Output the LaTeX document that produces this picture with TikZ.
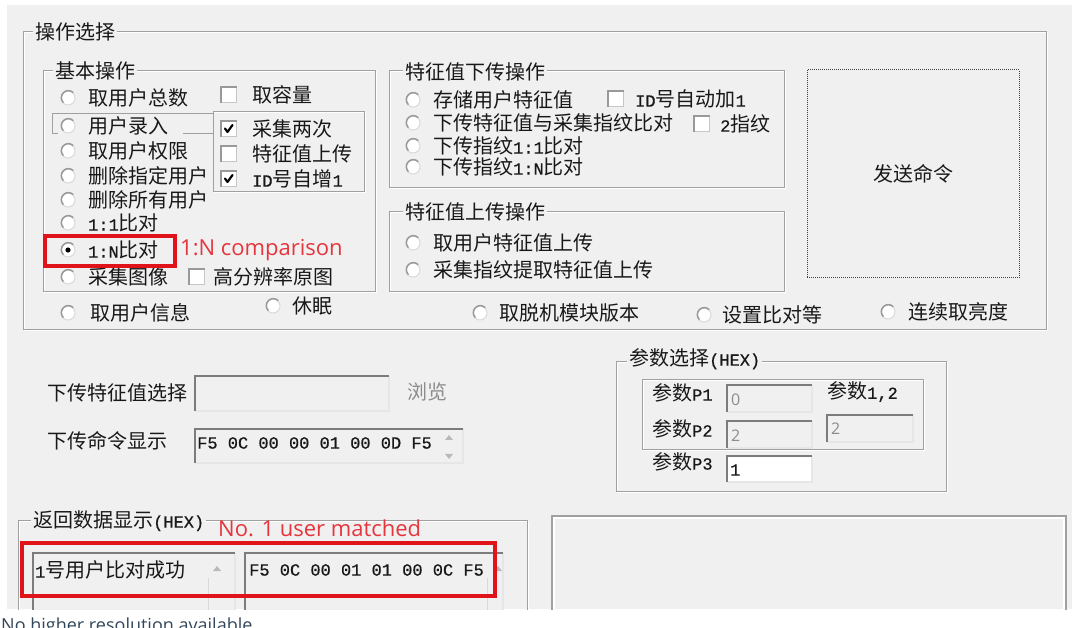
\documentclass[tikz,border=0pt]{standalone}
\usepackage{fontspec}
\newfontfamily\cjk{Noto Sans CJK SC}
\newfontfamily\annf{Open Sans}
\newfontfamily\monof[FakeBold=0.6]{Liberation Mono}
\definecolor{bgc}{HTML}{F0F0F0}
\definecolor{framec}{HTML}{A0A0A0}
\definecolor{annred}{HTML}{E5353D}
\definecolor{boxred}{HTML}{E0121A}
\definecolor{txt}{HTML}{181818}
\definecolor{dimtxt}{HTML}{8C8C8C}
\definecolor{sunkdark}{HTML}{7C7C7C}
\definecolor{sunklight}{HTML}{E6E6E6}
\definecolor{notec}{HTML}{33475B}
\newcommand\asc[1]{{\monof\fontsize{17}{17}\selectfont #1}}
\newcommand\myradio[5]{%
  \node[radio] (#1r) at (#2,#4) {};
  \draw[radiodark] (#1r.45) arc[start angle=45, end angle=225, radius=7pt];
  \node[lbl] (#1) at (#3,#4) {#5};}
\newcommand\mycheck[5]{%
  \node[chk] (#1c) at (#2,#4) {};
  \draw[chkdark] (#1c.south west) -- (#1c.north west) -- (#1c.north east);
  \node[lbl] (#1) at (#3,#4) {#5};}
\newcommand\myticked[5]{%
  \mycheck{#1}{#2}{#3}{#4}{#5}
  \draw[tickmark] ([shift={(-4pt,0.5pt)}]#1c.center) -- ++(2.5pt,-3.5pt) -- ++(5pt,7pt);}
\newcommand\etchbox[4]{%
  \draw[hilite, shift={(1,1)}] (#1,#2) rectangle (#3,#4);
  \draw[etch] (#1,#2) rectangle (#3,#4);}
\newcommand\sunk[5]{%
  \fill[#5] (#1,#2) rectangle (#3,#4);
  \draw[sunklight, line width=1.5pt] (#3,#2) -- (#3,#4) -- (#1,#4);
  \draw[sunkdark, line width=1.5pt] (#1,#4) -- (#1,#2) -- (#3,#2);}
\begin{document}
\begin{tikzpicture}[x=1pt,y=-1pt,
  lbl/.style={anchor=west, inner sep=0pt, text=txt, font=\cjk\fontsize{20}{24}\selectfont},
  dimlbl/.style={lbl, text=dimtxt},
  gtitle/.style={lbl, fill=bgc, inner xsep=2pt},
  etch/.style={draw=framec, line width=1pt},
  hilite/.style={draw=white, line width=1pt},
  radio/.style={circle, draw=gray!30, fill=white, minimum size=14pt, inner sep=0pt, line width=1pt},
  radiodark/.style={draw=gray!80, line width=1.5pt},
  chk/.style={rectangle, draw=gray!45, fill=white, minimum size=15pt, inner sep=0pt, line width=1pt},
  chkdark/.style={draw=gray!80, line width=1.4pt},
  tickmark/.style={line width=2.2pt, draw=black, line cap=round, line join=round},
  annot/.style={anchor=west, inner sep=0pt, text=annred, font=\annf\fontsize{22}{26}\selectfont},
  redbox/.style={draw=boxred, line width=4pt},
  hexbox/.style={anchor=west, inner sep=0pt, text=txt, font=\monof\fontsize{17}{20}\selectfont},
  valtxt/.style={anchor=west, inner sep=0pt, text=dimtxt, font=\annf\fontsize{16}{18}\selectfont},
  arrowtri/.style={fill=gray!55},
  btn/.style={draw=black!75, densely dotted, line width=1pt, minimum width=212pt, minimum height=208pt, inner sep=0pt, font=\cjk\fontsize{20}{24}\selectfont, text=txt},
  note/.style={anchor=base west, inner sep=0pt, text=notec, font=\annf\fontsize{18}{22}\selectfont}
]
\useasboundingbox (0,0) rectangle (1072,628);
\clip (0,0) rectangle (1072,628);
\fill[white] (0,0) rectangle (1072,628);
\node[note] (nohigher) at (1,631) {No higher resolution available};
\begin{scope}
\clip (7,5) rectangle (1072,609);
\fill[bgc] (7,5) rectangle (1072,609);

% ---------- outer group ----------
\etchbox{23}{32}{1046}{330}
\node[gtitle] (tOuter) at (33,32) {操作选择};

% ---------- basic operations ----------
\etchbox{43}{71}{375}{292}
\node[gtitle] (tBasic) at (53,71) {基本操作};
\myradio{b1}{68}{88}{98}{取用户总数}
\myradio{b2}{68}{88}{126}{用户录入}
\draw[framec, line width=1pt] (58,134) -- (52,134) -- (52,114) -- (213,114);
\draw[framec, line width=1pt] (183,134) -- (213,134);
\myradio{b3}{68}{88}{151}{取用户权限}
\myradio{b4}{68}{88}{176}{删除指定用户}
\myradio{b5}{68}{88}{200}{删除所有用户}
\myradio{b6}{68}{88}{223}{\asc{1:1}比对}
\myradio{b8}{68}{88}{277}{采集图像}
\mycheck{b8x}{197}{213}{277}{高分辨率原图}
\fill[bgc] (48,232) rectangle (174,268);
\myradio{b7}{68}{88}{250}{\asc{1:N}比对}
\fill[black] (b7r.center) circle[radius=2.6pt];

% checkbox sub-frame
\draw[hilite, shift={(1,1)}] (213,112) rectangle (364,192);
\fill[bgc] (214,113) rectangle (363,191);
\draw[etch] (213,112) rectangle (364,192);
\mycheck{c1}{229}{252}{95}{取容量}
\myticked{c2}{229}{252}{129}{采集两次}
\mycheck{c3}{229}{252}{154}{特征值上传}
\myticked{c4}{229}{252}{179}{\asc{ID}号自增\asc{1}}

\myradio{b9}{68}{90}{313}{取用户信息}
\myradio{b10}{273}{292}{306}{休眠}

% ---------- download group ----------
\etchbox{389}{71}{784}{188}
\node[gtitle] (tDown) at (403,72) {特征值下传操作};
\myradio{d1}{413}{433}{100}{存储用户特征值}
\mycheck{d1x}{616}{635}{99}{\asc{ID}号自动加\asc{1}}
\myradio{d2}{413}{433}{123}{下传特征值与采集指纹比对}
\mycheck{d2x}{702}{720}{124}{\asc{2}指纹}
\myradio{d3}{413}{433}{146}{下传指纹\asc{1:1}比对}
\myradio{d4}{413}{433}{167}{下传指纹\asc{1:N}比对}

% ---------- upload group ----------
\etchbox{389}{212}{784}{292}
\node[gtitle] (tUp) at (403,212) {特征值上传操作};
\myradio{u1}{413}{433}{243}{取用户特征值上传}
\myradio{u2}{413}{433}{270}{采集指纹提取特征值上传}

% bottom row of outer group
\myradio{e1}{480}{499}{313}{取脱机模块版本}
\myradio{e2}{704}{722}{315}{设置比对等}
\myradio{e3}{888}{908}{312}{连续取亮度}

% send button
\node[btn] (send) at (913,174) {发送命令};

% ---------- middle ----------
\node[lbl] (dlsel) at (47,393) {下传特征值选择};
\sunk{195}{376}{389}{411}{bgc}
\node[dimlbl] (browse) at (407,392) {浏览};
\node[lbl] (dlcmd) at (47,441) {下传命令显示};
\sunk{195}{429}{463}{463}{bgc}
\node[hexbox] (cmdhex) at (197,443) {F5 0C 00 00 01 00 0D F5};
\fill[arrowtri] (449,435) -- (453,440) -- (445,440) -- cycle;
\fill[arrowtri] (449,459) -- (453,454) -- (445,454) -- cycle;

% ---------- parameter group ----------
\etchbox{616}{362}{946}{491}
\node[gtitle] (tParam) at (627,359) {参数选择\asc{(HEX)}};
\etchbox{642}{380}{923}{450}
\node[lbl] (p1) at (652,393) {参数\asc{P1}};
\sunk{727}{385}{812}{412}{bgc}
\node[valtxt] (p1v) at (731,400) {0};
\node[lbl] (p12) at (827,392) {参数\asc{1,2}};
\node[lbl] (p2) at (652,429) {参数\asc{P2}};
\sunk{727}{421}{812}{448}{bgc}
\node[valtxt] (p2v) at (731,436) {2};
\sunk{827}{415}{913}{442}{bgc}
\node[valtxt] (p12v) at (831,429) {2};
\node[lbl] (p3) at (652,462) {参数\asc{P3}};
\sunk{727}{456}{812}{482}{white}
\node[hexbox] (p3v) at (730,470) {1};

% ---------- return data group ----------
\etchbox{18}{520}{527}{640}
\node[gtitle] (tRet) at (31,521) {返回数据显示\asc{(HEX)}};
\sunk{33}{553}{235}{640}{bgc}
\node[lbl] (ret1) at (35,570) {\asc{1}号用户比对成功};
\fill[arrowtri] (217,566) -- (221,571) -- (213,571) -- cycle;
\draw[gray!30, line width=1pt] (208,578) -- (208,612);
\sunk{245}{553}{503}{640}{bgc}
\node[hexbox] (ret2) at (249,570) {F5 0C 00 01 01 00 0C F5};
\fill[arrowtri] (498,566) -- (502,571) -- (494,571) -- cycle;
\draw[gray!30, line width=1pt] (487,578) -- (487,612);

% right empty frame
\draw[white, line width=1.5pt] (554,518) rectangle (1064,640);
\draw[framec, line width=1.5pt] (552,516) rectangle (1066,640);

% ---------- annotations ----------
\draw[redbox] (45,236) rectangle (175,266);
\node[annot] (ann1) at (180,250) {1:N comparison};
\draw[redbox] (22,543) rectangle (495,596);
\node[annot] (ann2) at (218,528) {No. 1 user matched};
\end{scope}
\end{tikzpicture}
\end{document}
